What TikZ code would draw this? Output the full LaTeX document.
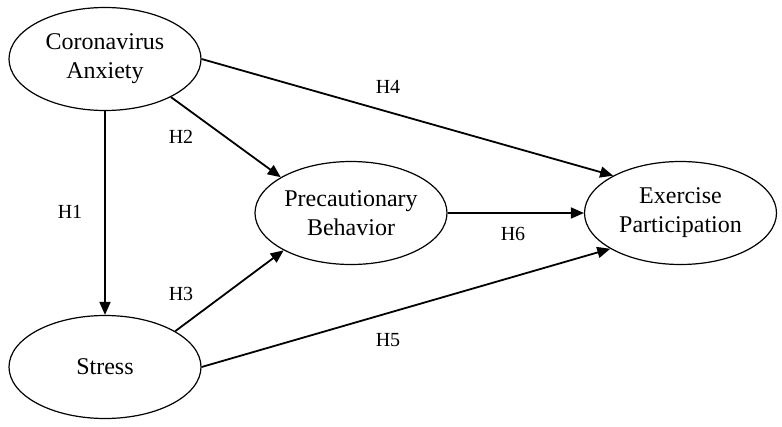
\documentclass[tikz,border=0pt]{standalone}
\usepackage{fontspec}
\setmainfont{Liberation Serif}
\usetikzlibrary{shapes.geometric,arrows.meta}
\begin{document}
\begin{tikzpicture}[x=1pt,y=-1pt,
  latent/.style={draw,line width=1.2pt,ellipse,minimum width=192pt,minimum height=103pt,inner sep=0pt,align=center,font=\fontsize{24}{29}\selectfont},
  path/.style={line width=1.8pt,-{Triangle[length=13pt,width=11pt]}},
  hlab/.style={font=\fontsize{20}{24}\selectfont,inner sep=0pt}]
\useasboundingbox (0,0) rectangle (782,426);
\node[latent] (ca) at (105,59) {Coronavirus\\Anxiety};
\node[latent] (st) at (105,367) {Stress};
\node[latent] (pb) at (351,213) {Precautionary\\Behavior};
\node[latent] (ep) at (680.5,213) {Exercise\\Participation};
\draw[path] (ca.south) -- (st.north);
\draw[path] (ca.-30) -- (pb.153);
\draw[path] (ca.0) -- (ep.151);
\draw[path] (st.27) -- (pb.209);
\draw[path] (st.0) -- (ep.207);
\draw[path] (pb.east) -- (ep.west);
\node[hlab] (h1) at (70,212) {H1};
\node[hlab] (h2) at (181,137) {H2};
\node[hlab] (h3) at (181,294) {H3};
\node[hlab] (h4) at (388,87) {H4};
\node[hlab] (h5) at (388,340) {H5};
\node[hlab] (h6) at (513,234) {H6};
\end{tikzpicture}
\end{document}
